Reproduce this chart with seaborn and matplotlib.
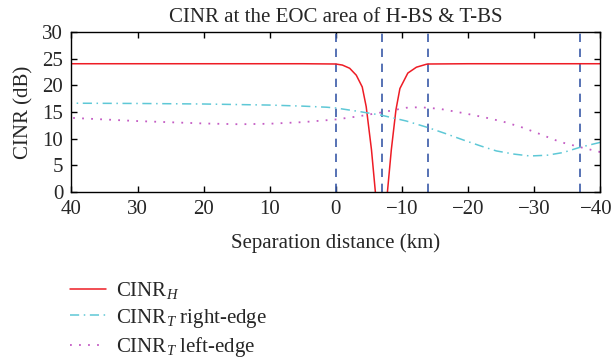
import pandas as pd
import matplotlib
matplotlib.use("Agg")
import matplotlib.pyplot as plt
import matplotlib.transforms as mtransforms
import seaborn as sns
import numpy as np

# values
x_h = [40, 20, 5, 0, -1, -2.1, -3.1, -4.0, -4.6, -5.4, -6.1, -6.9, -7.7, -8.4, -9.1, -9.7, -10.9, -12.2, -13.7, -14, -20, -40]
cinr_h = [24.05, 24.05, 24.05, 24.0, 23.8, 23.2, 21.9, 19.7, 16.0, 7.9, -1.5, -30, -1.5, 7.9, 15.4, 19.4, 22.3, 23.4, 23.95, 24.0, 24.05, 24.05]

x_t = [40, 30, 20, 10, 5, 1.4, 0, -3.5, -6.9, -10.7, -13.9, -16.5, -19.3, -22, -24.3, -27, -29.4, -32, -34.4, -37, -40]
cinr_t_right = [16.65, 16.6, 16.5, 16.3, 16.1, 15.9, 15.75, 15.1, 14.4, 13.3, 12.1, 11.0, 9.75, 8.6, 7.7, 7.1, 6.75, 6.9, 7.4, 8.4, 9.3]

x_l = [40, 30, 20, 14.5, 10, 5, 0, -3.5, -6.8, -10.7, -12.7, -15.7, -19.5, -22.5, -25.3, -28, -30.4, -33.9, -37, -40]
cinr_t_left = [13.9, 13.3, 12.85, 12.7, 12.8, 13.1, 13.6, 14.2, 14.9, 15.8, 15.9, 15.6, 14.75, 14.0, 13.2, 12.2, 11.1, 9.4, 8.4, 7.5]

boundaries = [0, -7, -14, -37]

sns.set_style("ticks")
plt.rcParams['font.family'] = ['Liberation Serif', 'DejaVu Serif']
plt.rcParams['mathtext.fontset'] = 'custom'
plt.rcParams['mathtext.rm'] = 'Liberation Serif'
plt.rcParams['mathtext.it'] = 'Liberation Serif:italic'
plt.rcParams['axes.unicode_minus'] = True

fs = 15
fig = plt.figure(figsize=(6.13, 3.58), dpi=100)
ax = fig.add_axes([0.1166, 0.4637, 0.979 - 0.1166, 0.9106 - 0.4637])

for b in boundaries:
    ax.axvline(b, color='#3a5aa8', linestyle=(0, (5, 4)), linewidth=1.2, zorder=1)

sns.lineplot(x=x_h, y=cinr_h, ax=ax, color='#ee1c25', linewidth=1.1,
             label=r'CINR$_H$', sort=False)
sns.lineplot(x=x_t, y=cinr_t_right, ax=ax, color='#5ec8d6', linewidth=1.1,
             linestyle=(0, (6, 3, 1, 3)), label=r'CINR$_T$ right-edge')
sns.lineplot(x=x_l, y=cinr_t_left, ax=ax, color='#c45cc4', linewidth=1.3,
             linestyle=(0, (1, 4)), label=r'CINR$_T$ left-edge')

ax.set_xlim(40, -40)
ax.set_ylim(0, 30)
ax.set_xticks([40, 30, 20, 10, 0, -10, -20, -30, -40])
ax.set_yticks([0, 5, 10, 15, 20, 25, 30])
ax.tick_params(direction='in', top=True, right=True, length=4, width=1,
               labelsize=fs, color='black', pad=6)
for s in ax.spines.values():
    s.set_color('black')
    s.set_linewidth(1)

# nudge the last tick label so it stays inside the figure
last = ax.get_xticklabels()[-1]
last.set_transform(last.get_transform() +
                   mtransforms.ScaledTranslation(-3 / 72, 0, fig.dpi_scale_trans))

ax.set_title('CINR at the EOC area of H-BS & T-BS', fontsize=fs, pad=7.5)
ax.set_xlabel('Separation distance (km)', fontsize=fs, labelpad=10)
ax.set_ylabel('CINR (dB)', fontsize=fs, labelpad=6)

handles, labels = ax.get_legend_handles_labels()
ax.get_legend().remove()
fig.legend(handles, labels, loc='upper left', bbox_to_anchor=(0.101, 0.24),
           frameon=False, fontsize=fs, handlelength=1.7, handletextpad=0.5,
           labelspacing=0.25, borderaxespad=0)

fig.savefig('out.png', dpi=100)
